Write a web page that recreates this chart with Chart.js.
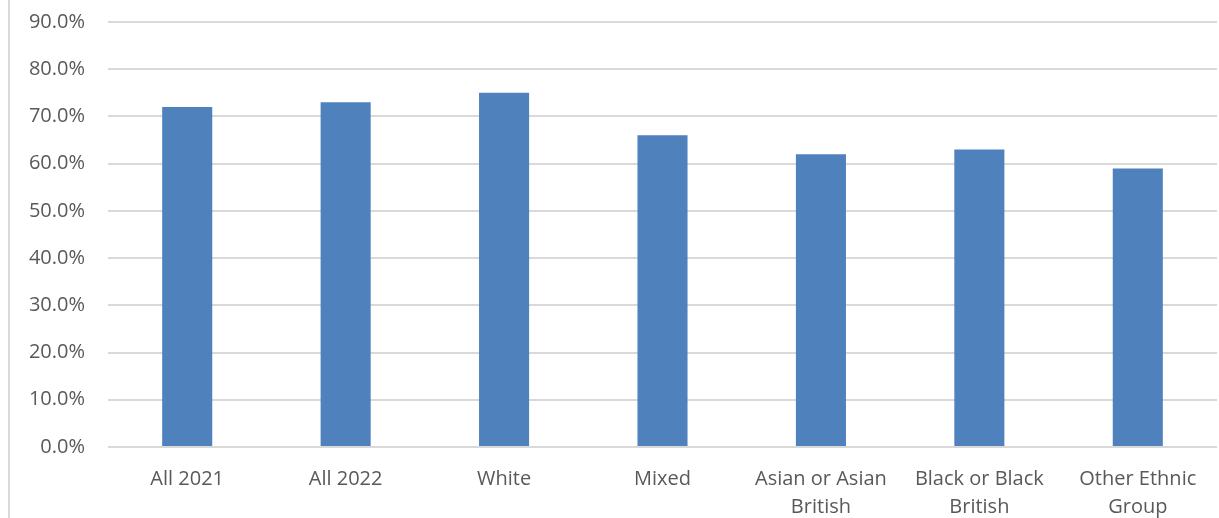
<!DOCTYPE html>
<html>
<head>
<meta charset="utf-8">
<script src="https://cdn.jsdelivr.net/npm/chart.js@4/dist/chart.umd.min.js"></script>
<style>
  html, body { margin: 0; padding: 0; background: #fff; }
  #wrap { position: relative; width: 1219px; height: 518px; }
  #edge { position: absolute; left: 8px; top: 0; width: 2px; height: 518px; background: #d9d9d9; }
  canvas { position: absolute; left: 0; top: 0; }
</style>
</head>
<body>
<div id="wrap">
  <div id="edge"></div>
  <canvas id="chart" width="1219" height="518"></canvas>
</div>
<script>
// data
const categories = [
  'All 2021',
  'All 2022',
  'White',
  'Mixed',
  ['Asian or Asian', 'British'],
  ['Black or Black', 'British'],
  ['Other Ethnic', 'Group']
];
const shares = [72, 73, 75, 66, 62, 63, 59];
const yMax = 90;
const yStep = 10;

const labelColor = '#595959';
const gridColor = '#d9d9d9';
const barColor = '#4f81bd';

let ctx = document.getElementById('chart');

const barChart = new Chart(ctx, {
  type: 'bar',
  data: {
    labels: categories,
    datasets: [{
      data: shares,
      backgroundColor: barColor,
      borderWidth: 0,
      barPercentage: 0.316,
      categoryPercentage: 1
    }]
  },
  options: {
    responsive: false,
    animation: false,
    layout: {
      padding: { top: 22, right: 2, left: 0, bottom: 0 }
    },
    plugins: {
      legend: { display: false },
      tooltip: { enabled: false }
    },
    scales: {
      x: {
        grid: { display: false },
        border: { display: false },
        ticks: {
          color: labelColor,
          padding: 10,
          maxRotation: 0,
          autoSkip: false,
          font: { family: 'Open Sans', size: 20, lineHeight: 1.4 }
        },
        afterFit: function(scale) {
          scale.height = 71;
          scale.paddingLeft = 0;
          scale.paddingRight = 0;
        }
      },
      y: {
        min: 0,
        max: yMax,
        grid: {
          color: gridColor,
          lineWidth: 2,
          drawTicks: false
        },
        border: { display: false },
        ticks: {
          stepSize: yStep,
          color: labelColor,
          padding: 23,
          font: { family: 'Open Sans', size: 20 },
          callback: function(v) { return v.toFixed(1) + '%'; }
        },
        afterFit: function(scale) {
          scale.width = 108;
          scale.paddingTop = 0;
          scale.paddingBottom = 0;
        }
      }
    }
  }
});
</script>
</body>
</html>
